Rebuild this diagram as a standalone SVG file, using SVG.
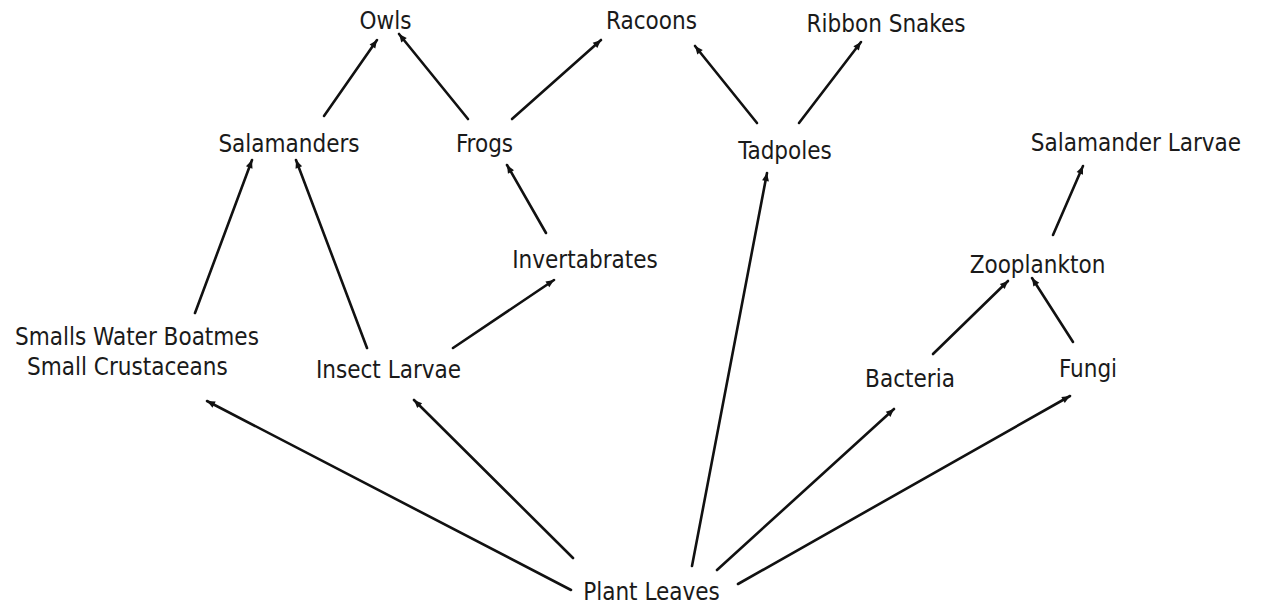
<svg xmlns="http://www.w3.org/2000/svg" width="1270" height="606" viewBox="0 0 1270 606">
<style>
  text { font-family: "DejaVu Sans Condensed", "DejaVu Sans", sans-serif; font-size: 24px; fill: #1a1a1a; text-anchor: middle; }
  .l { text-anchor: start; }
  .c line { stroke: #111; stroke-width: 2.6; stroke-linecap: round; marker-end: url(#ah); }
</style>
<defs>
  <marker id="ah" markerUnits="userSpaceOnUse" markerWidth="10" markerHeight="10" viewBox="0 0 10 10" refX="9" refY="5" orient="auto">
    <path d="M1,1.5 L9,5 L1,8.5 Z" fill="#111"/>
  </marker>
</defs>
<rect width="1270" height="606" fill="#fff"/>
<g id="connectors" class="c">
  <line x1="324" y1="116" x2="377" y2="40"/>
  <line x1="468" y1="119" x2="399" y2="34"/>
  <line x1="512" y1="119" x2="601" y2="40"/>
  <line x1="757" y1="123" x2="695" y2="46"/>
  <line x1="799" y1="123" x2="861" y2="42"/>
  <line x1="195" y1="313" x2="252" y2="160"/>
  <line x1="367" y1="348" x2="296" y2="160"/>
  <line x1="453" y1="348" x2="554" y2="280"/>
  <line x1="546" y1="233" x2="507" y2="165"/>
  <line x1="692" y1="566" x2="767" y2="173"/>
  <line x1="1053" y1="235" x2="1083" y2="166"/>
  <line x1="933" y1="354" x2="1008" y2="281"/>
  <line x1="1073" y1="342" x2="1032" y2="278"/>
  <line x1="571" y1="590" x2="207" y2="401"/>
  <line x1="573" y1="558" x2="414" y2="400"/>
  <line x1="717" y1="570" x2="894" y2="409"/>
  <line x1="738" y1="584" x2="1070" y2="396"/>
</g>
<g id="owls"><text x="385.5" y="29">Owls</text></g>
<g id="racoons"><text x="651.5" y="29">Racoons</text></g>
<g id="ribbon-snakes"><text x="886" y="32">Ribbon Snakes</text></g>
<g id="salamanders"><text x="289" y="152">Salamanders</text></g>
<g id="frogs"><text x="484.5" y="152">Frogs</text></g>
<g id="tadpoles"><text x="785" y="159">Tadpoles</text></g>
<g id="salamander-larvae"><text x="1136" y="151">Salamander Larvae</text></g>
<g id="invertabrates"><text x="585" y="268">Invertabrates</text></g>
<g id="zooplankton"><text x="1037.5" y="273">Zooplankton</text></g>
<g id="smalls"><text class="l" x="15" y="345">Smalls Water Boatmes</text><text class="l" x="27" y="375">Small Crustaceans</text></g>
<g id="insect-larvae"><text x="388.5" y="378">Insect Larvae</text></g>
<g id="bacteria"><text x="910" y="387">Bacteria</text></g>
<g id="fungi"><text x="1088" y="377">Fungi</text></g>
<g id="plant-leaves"><text x="651.5" y="600">Plant Leaves</text></g>
</svg>
